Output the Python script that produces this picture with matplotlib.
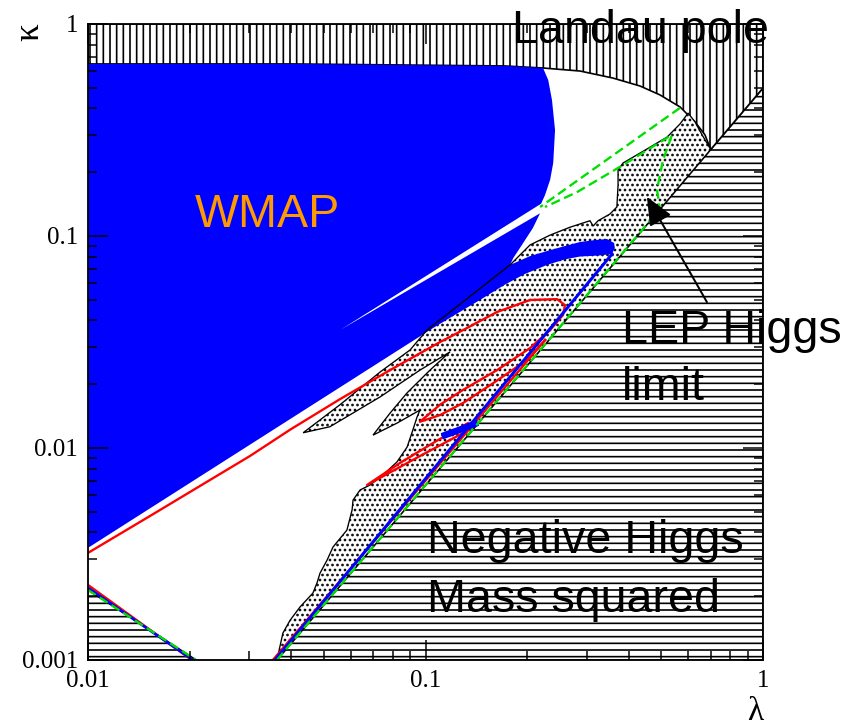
import matplotlib
matplotlib.use('Agg')
import matplotlib.pyplot as plt
from matplotlib.ticker import LogLocator, FuncFormatter, NullFormatter

# --- regions (lambda, kappa) ---

# negative Higgs mass squared (horizontal hatching)
neg_lam = [0.0363, 0.70, 1.0, 1.0]
neg_kap = [0.001, 0.256, 0.499, 0.001]
tri_lam = [0.01, 0.0209, 0.01]
tri_kap = [0.00214, 0.001, 0.001]

# Landau pole boundary (vertical hatching above it)
landau_lam = [0.01, 0.0405, 0.172, 0.223, 0.287, 0.359, 0.432, 0.495, 0.568, 0.629, 0.673, 0.70]
landau_kap = [0.648, 0.648, 0.634, 0.620, 0.600, 0.556, 0.510, 0.463, 0.406, 0.345, 0.300, 0.256]

# WMAP allowed region (blue)
wmap_lam = [0.01, 0.0405, 0.172, 0.223, 0.231, 0.237, 0.242, 0.239, 0.234, 0.226, 0.220,
            0.0558, 0.2185, 0.208, 0.193, 0.182, 0.178, 0.204, 0.229, 0.259, 0.287, 0.318,
            0.345, 0.362, 0.364, 0.357, 0.329, 0.287, 0.259, 0.229, 0.197, 0.172, 0.145,
            0.122, 0.103, 0.01]
wmap_kap = [0.648, 0.648, 0.634, 0.620, 0.544, 0.438, 0.316, 0.221, 0.184, 0.156, 0.142,
            0.0360, 0.128, 0.109, 0.0907, 0.0787, 0.0730, 0.0804, 0.0849, 0.0897, 0.0937, 0.0957,
            0.0968, 0.0927, 0.0878, 0.0822, 0.0810, 0.0800, 0.0776, 0.0730, 0.0662, 0.0590, 0.0499,
            0.0424, 0.0360, 0.00338]

# dotted region
dot_lam = [0.101, 0.178, 0.204, 0.234, 0.268, 0.307, 0.314, 0.3245, 0.352, 0.369, 0.372, 0.372,
           0.385, 0.447, 0.520, 0.5675, 0.600, 0.629, 0.660, 0.70,
           0.0363, 0.0378, 0.0397, 0.0425, 0.0464, 0.0477, 0.0487, 0.0511, 0.0532, 0.0585,
           0.0606, 0.0610, 0.0640, 0.0685, 0.0748, 0.0823, 0.0882, 0.0918, 0.0944, 0.0963,
           0.0823, 0.0699, 0.0785, 0.0882, 0.1031, 0.1182, 0.0963, 0.0733, 0.0521, 0.0434,
           0.0558, 0.0733, 0.0900]
dot_kap = [0.0360, 0.0730, 0.0907, 0.101, 0.110, 0.118, 0.1115, 0.118, 0.127, 0.137, 0.174, 0.205,
           0.221, 0.254, 0.293, 0.3375, 0.380, 0.345, 0.300, 0.256,
           0.001, 0.00134, 0.00154, 0.00178, 0.00207, 0.00231, 0.00257, 0.00296, 0.00341, 0.00410,
           0.00510, 0.00568, 0.00634, 0.00669, 0.00746, 0.00859, 0.0101, 0.0122, 0.0140, 0.0151,
           0.0131, 0.0115, 0.0146, 0.0182, 0.0233, 0.0284, 0.0233, 0.0174, 0.0126, 0.0118,
           0.0160, 0.0228, 0.0290]

# red contours
red_lam = [0.01, 0.01527, 0.02147, 0.0302, 0.0397, 0.0558, 0.0785, 0.1104, 0.1292, 0.1629, 0.204,
           0.2453, 0.259, 0.2555, 0.2339, 0.204, 0.1629, 0.1292, 0.1104, 0.0963, 0.1104, 0.1292,
           0.1607, 0.1998, 0.2261]
red_kap = [0.00320, 0.00478, 0.00662, 0.00917, 0.0122, 0.0170, 0.0233, 0.0316, 0.0360, 0.0438, 0.0499,
           0.0504, 0.0472, 0.0424, 0.0360, 0.0296, 0.0233, 0.0188, 0.0160, 0.0133, 0.0143, 0.0163,
           0.0205, 0.0260, 0.0323]
red_diag_lam = [0.0353, 0.2261]
red_diag_kap = [0.001, 0.0323]
red_loop_lam = [0.1336, 0.1089, 0.0840, 0.0671, 0.0976, 0.1309, 0.1355]
red_loop_kap = [0.0131, 0.0109, 0.00850, 0.00669, 0.00927, 0.0119, 0.0127]
red_tri_lam = [0.01, 0.0203]
red_tri_kap = [0.00226, 0.001]

# blue lines
blue_diag_lam = [0.0358, 0.357]
blue_diag_kap = [0.001, 0.0822]
blue_blob_lam = [0.1142, 0.1265, 0.140]
blue_blob_kap = [0.0115, 0.0122, 0.0130]
blue_tri_lam = [0.01, 0.02047]
blue_tri_kap = [0.00219, 0.001]

# green dashed (LEP Higgs limit)
green_lam = [0.0363, 0.495, 0.4853, 0.5055, 0.5375, 0.377, 0.281, 0.226]
green_kap = [0.001, 0.134, 0.165, 0.228, 0.300, 0.212, 0.161, 0.137]
green_up_lam = [0.5675, 0.2185]
green_up_kap = [0.402, 0.137]
green_tri_lam = [0.01, 0.0209]
green_tri_kap = [0.00214, 0.001]

# arrow for the LEP label
arrow_tail = (0.682, 0.0488)
arrow_head = (0.453, 0.153)

xticks = [0.01, 0.1, 1]
yticks = [0.001, 0.01, 0.1, 1]

plt.rcParams['hatch.linewidth'] = 1.0
fig = plt.figure(figsize=(861 / 120, 727 / 120), dpi=120)
ax = fig.add_axes([88 / 861, 1 - 660 / 727, 675 / 861, 636 / 727])
ax.set_xscale('log')
ax.set_yscale('log')
ax.set_xlim(0.01, 1)
ax.set_ylim(0.001, 1)

# hatched regions
ax.fill(neg_lam, neg_kap, facecolor='white', edgecolor='black', hatch='---', lw=1, zorder=1)
ax.fill(tri_lam, tri_kap, facecolor='white', edgecolor='black', hatch='---', lw=1, zorder=1)
lp_lam = [0.01] + landau_lam + [1.0, 1.0]
lp_kap = [1.0] + landau_kap + [0.499, 1.0]
ax.fill(lp_lam, lp_kap, facecolor='white', edgecolor='black', hatch='|||', lw=1, zorder=1)

# dotted region, WMAP on top, then the dotted outline
ax.fill(dot_lam, dot_kap, facecolor='white', edgecolor='black', hatch='....', lw=0, zorder=1.2)
ax.fill(wmap_lam, wmap_kap, facecolor='#0000ff', edgecolor='none', zorder=1.4)
ax.fill(dot_lam, dot_kap, fill=False, edgecolor='black', lw=0.8, zorder=1.6)

# contours
ax.plot(red_lam, red_kap, color='red', lw=1.4, zorder=1.8)
ax.plot(red_diag_lam, red_diag_kap, color='red', lw=1.4, zorder=1.8)
ax.plot(red_loop_lam, red_loop_kap, color='red', lw=1.4, zorder=1.8)
ax.plot(red_tri_lam, red_tri_kap, color='red', lw=1.4, zorder=1.8)
ax.plot(blue_diag_lam, blue_diag_kap, color='#0000ff', lw=1.8, zorder=1.9)
ax.plot(blue_blob_lam, blue_blob_kap, color='#0000ff', lw=4, zorder=1.9)
ax.plot(blue_tri_lam, blue_tri_kap, color='#0000ff', lw=1.6, zorder=1.9)
ax.plot(green_lam, green_kap, color='#00e000', lw=1.4, ls=(0, (4, 2)), zorder=2)
ax.plot(green_up_lam, green_up_kap, color='#00e000', lw=1.4, ls=(0, (4, 2)), zorder=2)
ax.plot(green_tri_lam, green_tri_kap, color='#00e000', lw=1.4, ls=(0, (4, 2)), zorder=2)

# labels
sans = 'Liberation Sans'
ax.text(0.18, 0.814, 'Landau pole', fontsize=28, family=sans, va='baseline', zorder=3)
ax.text(0.0207, 0.110, 'WMAP', fontsize=28, family=sans, color='#ff9900', va='baseline', zorder=3)
ax.text(0.382, 0.0313, 'LEP Higgs', fontsize=28, family=sans, va='baseline', zorder=3)
ax.text(0.382, 0.0168, 'limit', fontsize=28, family=sans, va='baseline', zorder=3)
ax.text(0.101, 0.0032, 'Negative Higgs', fontsize=28, family=sans, va='baseline', zorder=3)
ax.text(0.101, 0.001684, 'Mass squared', fontsize=28, family=sans, va='baseline', zorder=3)
ax.annotate('', xy=arrow_head, xytext=arrow_tail,
            arrowprops=dict(arrowstyle='-|>,head_length=0.8,head_width=0.35',
                            color='black', lw=1.2, mutation_scale=18, shrinkA=0, shrinkB=0),
            zorder=3)

# axes styling
ax.set_axisbelow(False)
ax.set_xticks(xticks)
ax.set_yticks(yticks)
fmt = FuncFormatter(lambda v, _: f'{v:g}')
ax.xaxis.set_major_formatter(fmt)
ax.yaxis.set_major_formatter(fmt)
ax.xaxis.set_minor_locator(LogLocator(base=10, subs=range(2, 10)))
ax.yaxis.set_minor_locator(LogLocator(base=10, subs=range(2, 10)))
ax.xaxis.set_minor_formatter(NullFormatter())
ax.yaxis.set_minor_formatter(NullFormatter())
ax.tick_params(which='both', direction='in', top=True, right=True, width=0.9)
ax.tick_params(which='major', length=12, pad=6)
ax.tick_params(which='minor', length=5.5)
for lbl in ax.get_xticklabels() + ax.get_yticklabels():
    lbl.set_family('Liberation Serif')
    lbl.set_fontsize(15)
for sp in ax.spines.values():
    sp.set_linewidth(1.1)

fig.text(30 / 861, 1 - 32 / 727, 'κ', rotation=90, family='Liberation Serif', fontsize=21,
         ha='center', va='center')
fig.text(755 / 861, 1 - 712 / 727, 'λ', family='Liberation Serif', fontsize=20,
         ha='center', va='center')

fig.savefig('out.png', dpi=120)
